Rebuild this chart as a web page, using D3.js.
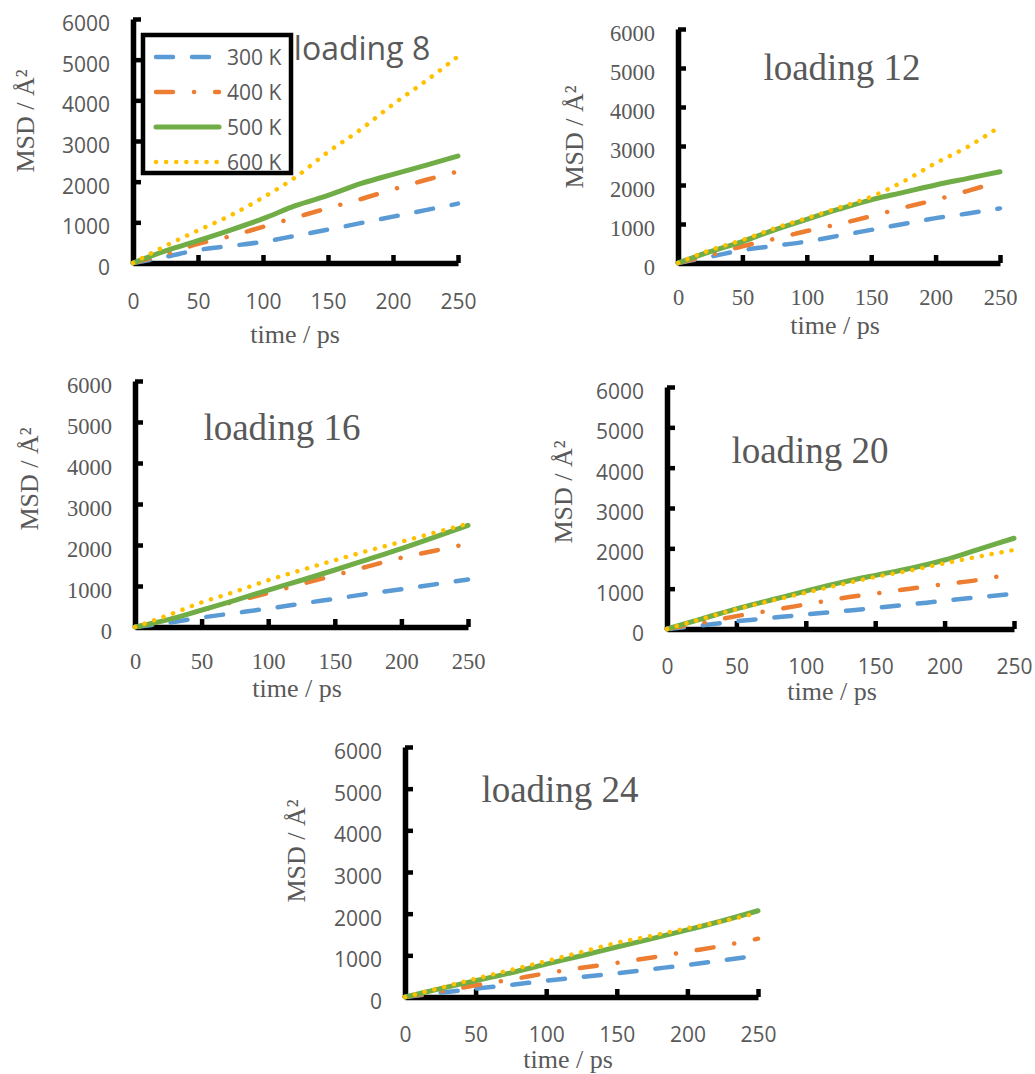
<!DOCTYPE html>
<html>
<head>
<meta charset="utf-8">
<script src="https://cdn.jsdelivr.net/npm/d3@7"></script>
<style>
  body { margin: 0; background: #fff; }
  svg { display: block; }
</style>
</head>
<body>
<svg></svg>
<script>
// time axis (ps)
var time = [0, 25, 50, 75, 100, 125, 150, 175, 200, 225, 250]
var xTicks = [0, 50, 100, 150, 200, 250]
var yTicks = [0, 1000, 2000, 3000, 4000, 5000, 6000]
var temps = ['300 K', '400 K', '500 K', '600 K']

// MSD values (Å²)
var l8_300 = [0, 150, 320, 420, 520, 670, 820, 980, 1140, 1300, 1460]
var l8_400 = [0, 220, 470, 660, 890, 1120, 1350, 1570, 1810, 2040, 2250]
var l8_500 = [0, 300, 550, 810, 1090, 1410, 1660, 1950, 2180, 2400, 2630]
var l8_600 = [0, 420, 800, 1170, 1610, 2110, 2730, 3280, 3900, 4470, 5080]

var l12_300 = [0, 160, 330, 440, 550, 700, 850, 1000, 1150, 1270, 1400]
var l12_400 = [0, 200, 430, 620, 820, 1000, 1200, 1420, 1620, 1850, 2090]
var l12_500 = [0, 290, 550, 850, 1120, 1380, 1620, 1810, 2000, 2170, 2340]
var l12_600 = [0, 330, 590, 890, 1150, 1420, 1700, 2090, 2560, 2980, 3500]

var l16_300 = [0, 100, 230, 340, 450, 570, 690, 810, 920, 1040, 1160]
var l16_400 = [0, 180, 410, 620, 830, 1050, 1260, 1480, 1690, 1860, 2030]
var l16_500 = [0, 180, 410, 650, 900, 1140, 1390, 1650, 1910, 2190, 2480]
var l16_600 = [0, 290, 600, 860, 1140, 1390, 1630, 1860, 2080, 2300, 2520]

var l20_300 = [0, 90, 190, 275, 360, 440, 520, 610, 700, 790, 870]
var l20_400 = [0, 150, 320, 460, 610, 760, 880, 1000, 1110, 1220, 1380]
var l20_500 = [0, 250, 500, 720, 940, 1150, 1330, 1500, 1710, 1980, 2250]
var l20_600 = [0, 250, 490, 700, 900, 1100, 1290, 1450, 1630, 1800, 1960]

var l24_300 = [0, 100, 200, 290, 390, 480, 570, 670, 770, 880, 1000]
var l24_400 = [0, 130, 280, 420, 570, 700, 820, 950, 1090, 1230, 1400]
var l24_500 = [0, 200, 390, 580, 790, 990, 1200, 1400, 1610, 1830, 2070]
var l24_600 = [0, 220, 440, 650, 860, 1080, 1300, 1470, 1650, 1820, 2020]

var SANS = "'Open Sans', sans-serif"
var SERIF = "'Liberation Serif', 'Times New Roman', serif"
var TEXT = '#595959'

var styles = [
  { color: '#5B9BD5', dash: '17 19' },
  { color: '#ED7D31', dash: '17 21 0.1 21' },
  { color: '#70AD47', dash: null },
  { color: '#FFC000', dash: '0.1 10' }
]

// panel frames in page pixels
var panels = [
  { title: 'loading 8', series: [l8_300, l8_400, l8_500, l8_600], titleFont: SANS, titleSize: 32, tickFont: SANS,
    left: 133, right: 458, bottom: 263, top: 19, xLabY: 302, xTitle: [295, 343], yTitle: [34, 121], titlePos: [362, 60] },
  { title: 'loading 12', series: [l12_300, l12_400, l12_500, l12_600], titleFont: SERIF, titleSize: 37, tickFont: SERIF,
    left: 678, right: 1000, bottom: 263, top: 29, xLabY: 297, xTitle: [835, 334], yTitle: [583, 137], titlePos: [842, 80] },
  { title: 'loading 16', series: [l16_300, l16_400, l16_500, l16_600], titleFont: SERIF, titleSize: 37, tickFont: SERIF,
    left: 135, right: 468, bottom: 627, top: 381, xLabY: 661, xTitle: [297, 697], yTitle: [38, 479], titlePos: [282, 440] },
  { title: 'loading 20', series: [l20_300, l20_400, l20_500, l20_600], titleFont: SERIF, titleSize: 37, tickFont: SANS,
    left: 667, right: 1014, bottom: 629, top: 387, xLabY: 667, xTitle: [832, 700], yTitle: [572, 492], titlePos: [810, 463] },
  { title: 'loading 24', series: [l24_300, l24_400, l24_500, l24_600], titleFont: SERIF, titleSize: 37, tickFont: SANS,
    left: 405, right: 758, bottom: 997, top: 747, xLabY: 1035, xTitle: [568, 1068], yTitle: [305, 851], titlePos: [560, 802] }
]

var svg = d3.select('svg').attr('width', 1035).attr('height', 1074)

panels.forEach(function(p, pi) {
  var x = d3.scaleLinear().domain([0, 250]).range([p.left, p.right])
  var y = d3.scaleLinear().domain([0, 6000]).range([p.bottom, p.top])
  var g = svg.append('g')
  var tickSize = p.tickFont === SERIF ? 22.5 : 21

  // y axis
  var ya = g.append('g')
    .attr('transform', 'translate(' + p.left + ',0)')
    .call(d3.axisLeft(y).tickValues(yTicks).tickFormat(d3.format('d'))
      .tickSizeInner(-8).tickSizeOuter(0).tickPadding(23))
  // x axis
  var xa = g.append('g')
    .attr('transform', 'translate(0,' + p.bottom + ')')
    .call(d3.axisBottom(x).tickValues(xTicks).tickFormat(d3.format('d'))
      .tickSizeInner(-8).tickSizeOuter(0))

  ;[ya, xa].forEach(function(a) {
    a.select('.domain').attr('stroke', '#000').attr('stroke-width', 5.5)
    a.selectAll('.tick line').attr('stroke', '#000').attr('stroke-width', 4.5)
    a.selectAll('.tick text')
      .attr('fill', TEXT)
      .attr('font-family', p.tickFont)
      .attr('font-size', tickSize)
  })
  ya.selectAll('.tick text').attr('y', 4).attr('dy', '0.35em')
  xa.selectAll('.tick text').attr('y', p.xLabY - p.bottom).attr('dy', '0.35em')

  // axis titles
  g.append('text')
    .attr('x', p.xTitle[0]).attr('y', p.xTitle[1])
    .attr('text-anchor', 'middle')
    .attr('font-family', SERIF).attr('font-size', 26).attr('fill', TEXT)
    .text('time / ps')
  g.append('text')
    .attr('transform', 'translate(' + p.yTitle[0] + ',' + p.yTitle[1] + ') rotate(-90)')
    .attr('text-anchor', 'middle')
    .attr('font-family', SERIF).attr('font-size', 26).attr('fill', TEXT)
    .text('MSD / Å²')

  // title
  g.append('text')
    .attr('x', p.titlePos[0]).attr('y', p.titlePos[1])
    .attr('text-anchor', 'middle')
    .attr('font-family', p.titleFont).attr('font-size', p.titleSize).attr('fill', TEXT)
    .text(p.title)

  // series
  var line = d3.line()
    .x(function(d, i) { return x(time[i]) })
    .y(function(d) { return y(d) })
    .curve(d3.curveMonotoneX)
  p.series.forEach(function(s, si) {
    g.append('path')
      .datum(s)
      .attr('d', line)
      .attr('fill', 'none')
      .attr('stroke', styles[si].color)
      .attr('stroke-width', si === 2 ? 5 : 4.5)
      .attr('stroke-linecap', 'round')
      .attr('stroke-dasharray', styles[si].dash)
  })

  // legend only on the first panel
  if (pi === 0) {
    var lg = g.append('g')
    lg.append('rect')
      .attr('x', 143).attr('y', 35).attr('width', 148).attr('height', 138)
      .attr('fill', '#fff')
    temps.forEach(function(t, i) {
      var cy = 57 + i * 35
      lg.append('line')
        .attr('x1', 156).attr('x2', 219).attr('y1', cy).attr('y2', cy)
        .attr('stroke', styles[i].color)
        .attr('stroke-width', i === 2 ? 5 : 4.5)
        .attr('stroke-linecap', 'round')
        .attr('stroke-dasharray', styles[i].dash)
      lg.append('text')
        .attr('x', 227).attr('y', cy + 8)
        .attr('font-family', SANS).attr('font-size', 21).attr('fill', TEXT)
        .text(t)
    })
    lg.append('rect')
      .attr('x', 143).attr('y', 35).attr('width', 148).attr('height', 138)
      .attr('fill', 'none').attr('stroke', '#000').attr('stroke-width', 4.5)
  }
})
</script>
</body>
</html>
